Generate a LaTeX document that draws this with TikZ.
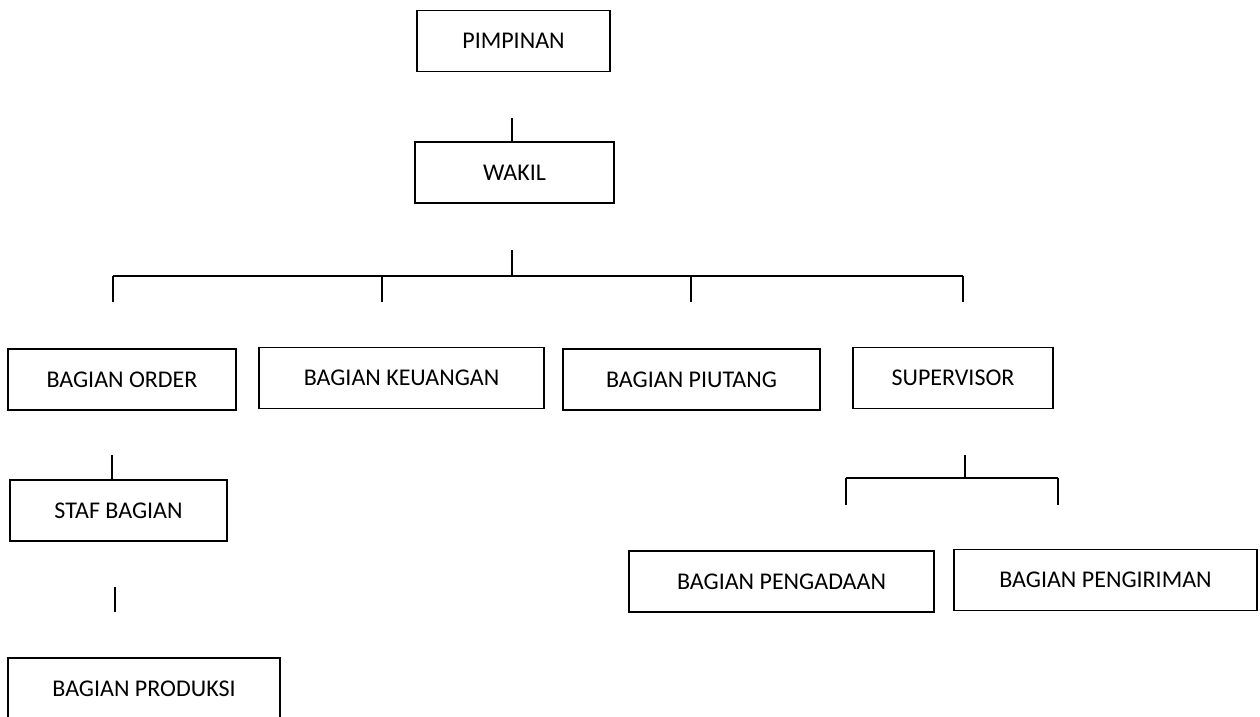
\documentclass[tikz,border=0pt]{standalone}
\usepackage{fontspec}
\setmainfont{Carlito}
\begin{document}
\begin{tikzpicture}[x=0.75pt,y=-0.75pt,
  orgbox/.style={draw=black, line width=1.1pt, inner sep=0pt, text height=28.5pt, text depth=17.25pt, minimum width=#1, font=\fontsize{18}{21}\selectfont},
  link/.style={draw=black, line width=1.1pt}]
\clip (0,0) rectangle (1260,717);
\fill[white] (0,0) rectangle (1260,717);
% boxes
\node[orgbox=144.75pt] (pim) at (513.5,41) {PIMPINAN};
\node[orgbox=149.25pt] (wakil) at (514.5,172.5) {WAKIL};
\node[orgbox=171pt] (order) at (122,379.5) {BAGIAN ORDER};
\node[orgbox=213.75pt] (keu) at (401.5,378) {BAGIAN KEUANGAN};
\node[orgbox=192.75pt] (piu) at (691.5,379.5) {BAGIAN PIUTANG};
\node[orgbox=150pt] (sup) at (953,378) {SUPERVISOR};
\node[orgbox=162.75pt] (staf) at (118.5,510.5) {STAF BAGIAN};
\node[orgbox=204pt] (prod) at (144,688.5) {BAGIAN PRODUKSI};
\node[orgbox=228.75pt] (peng) at (781.5,581.5) {BAGIAN PENGADAAN};
\node[orgbox=227.25pt] (kirim) at (1105.5,580) {BAGIAN PENGIRIMAN};
% pimpinan - wakil
\coordinate (w1) at (512,118);
\draw[link] (w1) -- (w1 |- wakil.north);
% wakil - row
\coordinate (h0) at (512,250);
\coordinate (hj) at (512,276);
\coordinate (hl) at (113,276);
\coordinate (hr) at (963,276);
\coordinate (hk) at (382,276);
\coordinate (hp) at (691,276);
\coordinate (d1) at (113,302);
\coordinate (d2) at (382,302);
\coordinate (d3) at (691,302);
\coordinate (d4) at (963,302);
\draw[link] (h0) -- (hj);
\draw[link] (hl) -- (hr);
\draw[link] (hl) -- (d1);
\draw[link] (hk) -- (d2);
\draw[link] (hp) -- (d3);
\draw[link] (hr) -- (d4);
% order - staf
\coordinate (s1) at (112,455);
\draw[link] (s1) -- (s1 |- staf.north);
% staf - produksi
\coordinate (p1) at (115,587);
\coordinate (p2) at (115,612);
\draw[link] (p1) -- (p2);
% supervisor - children
\coordinate (v0) at (965,455);
\coordinate (vj) at (965,478);
\coordinate (vl) at (846,478);
\coordinate (vr) at (1058,478);
\coordinate (e1) at (846,505);
\coordinate (e2) at (1058,505);
\draw[link] (v0) -- (vj);
\draw[link] (vl) -- (vr);
\draw[link] (vl) -- (e1);
\draw[link] (vr) -- (e2);
\end{tikzpicture}
\end{document}
